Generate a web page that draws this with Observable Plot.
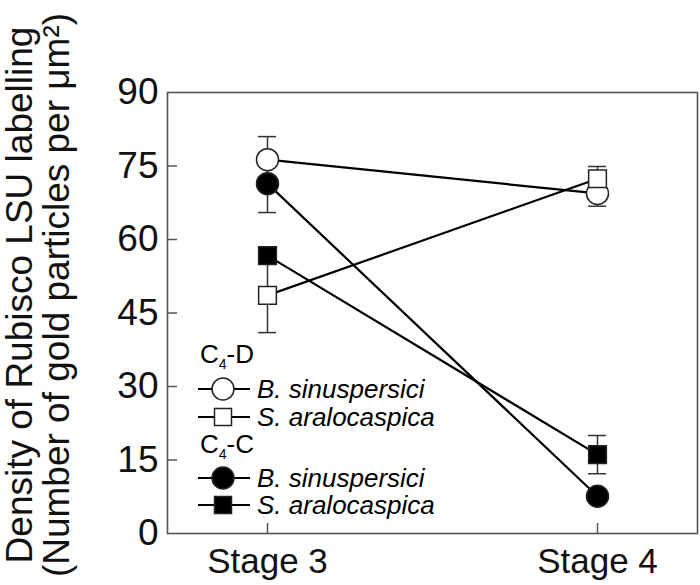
<!DOCTYPE html>
<html><head><meta charset="utf-8">
<script src="https://cdn.jsdelivr.net/npm/d3@7"></script>
<script src="https://cdn.jsdelivr.net/npm/@observablehq/plot@0.6"></script>
<style>
body{margin:0;background:#fff;font-family:"Liberation Sans",Arial,sans-serif;}
#wrap{position:relative;width:700px;height:585px;}
.lg{position:absolute;display:flex;align-items:center;height:30px;font-size:26px;color:#000;white-space:nowrap;}
.lg i{margin-left:5px;}
.hd{position:absolute;font-size:26px;line-height:26px;}
.hd sub{font-size:14px;}
</style></head><body><div id="wrap"></div>
<script>
// categories
const stages = ["Stage 3", "Stage 4"];
const yTicks = [0, 15, 30, 45, 60, 75, 90];
// series values (mean and error) per stage
const c4dBsMean = [76.3, 69.4];
const c4dBsErr  = [4.7, 2.6];
const c4dSaMean = [48.6, 72.4];
const c4dSaErr  = [7.6, 2.5];
const c4cBsMean = [71.4, 7.6];
const c4cBsErr  = [5.9, 0.8];
const c4cSaMean = [56.7, 16.1];
const c4cSaErr  = [1.2, 3.9];
// series descriptors
const seriesKeys = ["c4dBs", "c4dSa", "c4cBs", "c4cSa"];
const seriesLabels = ["B. sinuspersici", "S. aralocaspica", "B. sinuspersici", "S. aralocaspica"];
const seriesGroups = ["C4-D", "C4-D", "C4-C", "C4-C"];
const seriesSymbols = ["circle", "square", "circle", "square"];
const seriesFills = ["white", "white", "black", "black"];

const means = {c4dBs: c4dBsMean, c4dSa: c4dSaMean, c4cBs: c4cBsMean, c4cSa: c4cSaMean};
const errs = {c4dBs: c4dBsErr, c4dSa: c4dSaErr, c4cBs: c4cBsErr, c4cSa: c4cSaErr};

const rows = [];
seriesKeys.forEach((k, si) => {
  stages.forEach((s, i) => {
    rows.push({key: k, stage: s, y: means[k][i], lo: means[k][i] - errs[k][i], hi: means[k][i] + errs[k][i],
      symbol: seriesSymbols[si], fill: seriesFills[si]});
  });
});
const circles = rows.filter(d => d.symbol === "circle");
const squares = rows.filter(d => d.symbol === "square");

const font = "Liberation Sans, Arial, sans-serif";
const chart = Plot.plot({
  width: 700, height: 585,
  marginLeft: 167, marginTop: 92, marginRight: 3, marginBottom: 52,
  style: {fontFamily: font, background: "white", color: "black"},
  x: {type: "point", domain: stages, padding: 0.302, label: null},
  y: {domain: [0, 90], ticks: yTicks, label: null},
  marks: [
    Plot.frame({stroke: "#555", strokeWidth: 1.6}),
    Plot.axisY(yTicks, {tickSize: 0, tickPadding: 9, fontSize: 37, label: null, fill: "#111"}),
    Plot.axisX(stages, {tickSize: 0, tickPadding: 15, fontSize: 35, label: null, fill: "#111"}),
    Plot.tickY(yTicks.slice(1, -1), {y: d => d, insetRight: 520, stroke: "#555", strokeWidth: 1.5}),
    Plot.tickX(stages, {x: d => d, insetTop: 431, stroke: "#555", strokeWidth: 1.5}),
    // error bars
    Plot.ruleX(rows, {x: "stage", y1: "lo", y2: "hi", stroke: "#333", strokeWidth: 1.5}),
    Plot.ruleY(rows, {y: "lo", x1: "stage", x2: "stage", insetLeft: -9, insetRight: -9, stroke: "#333", strokeWidth: 1.5}),
    Plot.ruleY(rows, {y: "hi", x1: "stage", x2: "stage", insetLeft: -9, insetRight: -9, stroke: "#333", strokeWidth: 1.5}),
    // connecting lines
    Plot.line(rows, {x: "stage", y: "y", z: "key", stroke: "black", strokeWidth: 2.2}),
    // markers
    Plot.dot(circles, {x: "stage", y: "y", r: 11, symbol: "circle", fill: "fill", stroke: "#222", strokeWidth: 1.5}),
    Plot.dot(squares, {x: "stage", y: "y", r: 10, symbol: "square", fill: "fill", stroke: "#222", strokeWidth: 1.5}),
    // y-axis title
    Plot.text(["Density of Rubisco LSU labelling\n(Number of gold particles per μm²)"], {
      frameAnchor: "left", text: d => d, rotate: -90, dx: -129, dy: -18,
      fontSize: 37, lineHeight: 1.0, textAnchor: "middle", lineAnchor: "middle", fill: "#111"
    })
  ]
});
chart.style.display = "block";
const wrap = document.getElementById("wrap");
wrap.appendChild(chart);

// legend overlay
const legendRowsY = [389, 417, 478, 505];
const legendHeads = [{g: "D", y: 355}, {g: "C", y: 445}];
legendHeads.forEach(h => {
  const d = document.createElement("div");
  d.className = "hd";
  d.style.left = "200px";
  d.style.top = (h.y - 14) + "px";
  d.innerHTML = "C<sub>4</sub>-" + h.g;
  wrap.appendChild(d);
});
seriesKeys.forEach((k, i) => {
  const d = document.createElement("div");
  d.className = "lg";
  d.style.left = "196px";
  d.style.top = (legendRowsY[i] - 15) + "px";
  const sym = seriesSymbols[i] === "circle"
    ? `<circle cx="27" cy="15" r="11" fill="${seriesFills[i]}" stroke="#222" stroke-width="1.5"/>`
    : `<rect x="18.5" y="6.5" width="17" height="17" fill="${seriesFills[i]}" stroke="#222" stroke-width="1.5"/>`;
  d.innerHTML = `<svg width="56" height="30"><line x1="2" x2="54" y1="15" y2="15" stroke="black" stroke-width="2"/>${sym}</svg><i>${seriesLabels[i]}</i>`;
  wrap.appendChild(d);
});
</script></body></html>
